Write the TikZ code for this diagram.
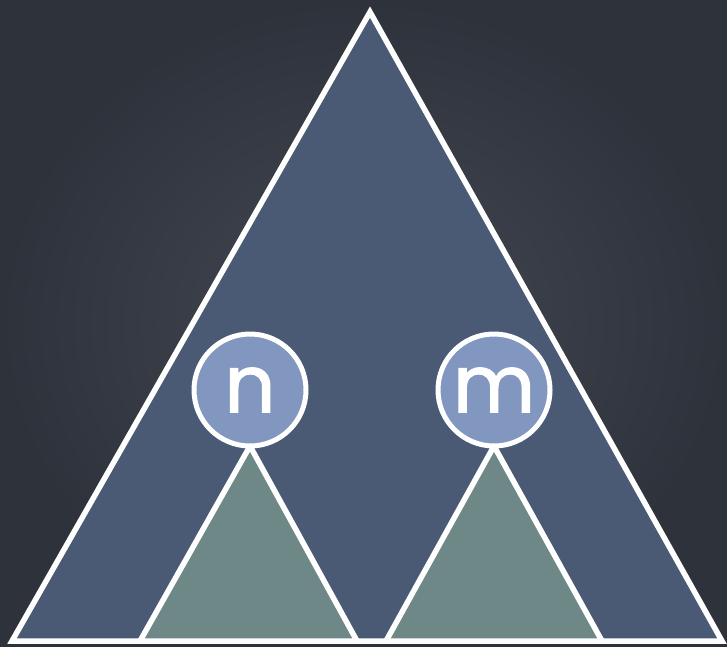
\documentclass[tikz,border=0pt]{standalone}
\usepackage{fontspec}
\setmainfont{Poppins}
\newfontfamily\keyfont{Poppins}[FakeBold=1.6]
\definecolor{bgdark}{HTML}{2E323B}
\definecolor{bglight}{HTML}{434852}
\definecolor{bigtri}{HTML}{4A5A74}
\definecolor{subtri}{HTML}{6E8888}
\definecolor{circfill}{HTML}{8197BF}
\tikzset{
  tri/.style={draw=white, line width=5.5pt, line join=miter},
  keynode/.style={circle, draw=white, line width=5pt, fill=circfill, minimum size=112pt, inner sep=0pt, text=white, font=\keyfont\fontsize{80}{80}\selectfont}
}
\begin{document}
\begin{tikzpicture}[x=1pt,y=-1pt]
\useasboundingbox (0,0) rectangle (727,646);
\shade[inner color=bglight, outer color=bgdark] (0,0) rectangle (727,646);
\coordinate (A) at (370,12);
\coordinate (BL) at (12,641);
\coordinate (BR) at (722,641);
\filldraw[tri, fill=bigtri] (A) -- (BL) -- (BR) -- cycle;
\coordinate (nt) at (250,446);
\coordinate (nl) at (140,641);
\coordinate (nr) at (357,641);
\coordinate (mt) at (494,446);
\coordinate (ml) at (386,641);
\coordinate (mr) at (602,641);
\filldraw[tri, fill=subtri] (nt) -- (nl) -- (nr) -- cycle;
\filldraw[tri, fill=subtri] (mt) -- (ml) -- (mr) -- cycle;
\node[keynode] (n) at (250,390) {n};
\node[keynode] (m) at (494,390) {m};
\end{tikzpicture}
\end{document}
